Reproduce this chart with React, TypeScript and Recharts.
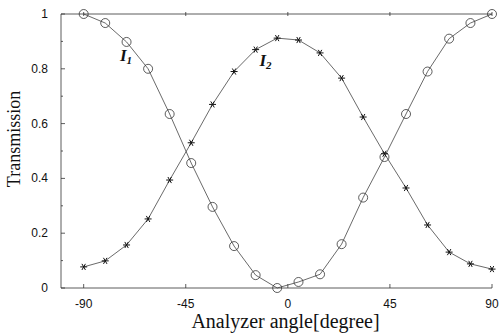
import { LineChart, Line, XAxis, YAxis, ReferenceDot, Label } from 'recharts';

// analyzer angle of each measured point (degrees)
const angles = [
  -90, -80.5, -71.1, -61.6, -52.1, -42.6, -33.2, -23.7, -14.2, -4.7,
  4.7, 14.2, 23.7, 33.2, 42.6, 52.1, 61.6, 71.1, 80.5, 90,
];
// I1 (circles)
const i1Values = [
  1.0, 0.967, 0.898, 0.8, 0.635, 0.456, 0.296, 0.153, 0.047, 0.0,
  0.022, 0.05, 0.16, 0.33, 0.478, 0.635, 0.79, 0.91, 0.967, 1.0,
];
// I2 (stars)
const i2Values = [
  0.077, 0.099, 0.157, 0.252, 0.394, 0.53, 0.67, 0.79, 0.87, 0.912,
  0.905, 0.858, 0.766, 0.624, 0.49, 0.365, 0.23, 0.131, 0.088, 0.069,
];
const xTicks = [-90, -45, 0, 45, 90];
const yTicks = [0, 0.1, 0.2, 0.3, 0.4, 0.5, 0.6, 0.7, 0.8, 0.9, 1];
const yLabelled = [0, 0.2, 0.4, 0.6, 0.8, 1];

const data = angles.map((a, i) => ({ angle: a, i1: i1Values[i], i2: i2Values[i] }));

const INK = '#333';
const SANS = '"Liberation Sans", Arial, sans-serif';
const SERIF = '"Liberation Serif", "Times New Roman", serif';

const CircleDot = (props: any) => {
  const { cx, cy } = props;
  if (cx == null || cy == null) return null;
  return <circle cx={cx} cy={cy} r={4.5} fill="none" stroke={INK} strokeWidth={0.8} />;
};

const StarDot = (props: any) => {
  const { cx, cy } = props;
  if (cx == null || cy == null) return null;
  const r = 3.5;
  return (
    <g stroke="#111" strokeWidth={1}>
      <line x1={cx - r} y1={cy} x2={cx + r} y2={cy} />
      <line x1={cx - r * 0.5} y1={cy - r * 0.87} x2={cx + r * 0.5} y2={cy + r * 0.87} />
      <line x1={cx - r * 0.5} y1={cy + r * 0.87} x2={cx + r * 0.5} y2={cy - r * 0.87} />
    </g>
  );
};

const LeftTick = (props: any) => {
  const { x, y, payload } = props;
  const v = payload.value;
  const labelled = yLabelled.some((t) => Math.abs(t - v) < 1e-6);
  return (
    <g>
      <line x1={x + 13} y1={y} x2={x + (labelled ? 17 : 15)} y2={y} stroke={INK} strokeWidth={0.8} />
      {labelled && (
        <text x={x} y={y} dy={4} textAnchor="end" fontFamily={SANS} fontSize={12} fill="#111">
          {v}
        </text>
      )}
    </g>
  );
};

const RightTick = (props: any) => {
  const { x, y } = props;
  return <line x1={x} y1={y} x2={x - 4} y2={y} stroke={INK} strokeWidth={0.8} />;
};

const BottomTick = (props: any) => {
  const { x, y, payload } = props;
  return (
    <g>
      <line x1={x} y1={y - 15} x2={x} y2={y - 19} stroke={INK} strokeWidth={0.8} />
      <text x={x} y={y} dy={5} textAnchor="middle" fontFamily={SANS} fontSize={12} fill="#111">
        {payload.value}
      </text>
    </g>
  );
};

const TopTick = (props: any) => {
  const { x, y } = props;
  return <line x1={x} y1={y} x2={x} y2={y + 4} stroke={INK} strokeWidth={0.8} />;
};

const CurveName = (sub: string) => (props: any) => {
  const { cx, cy } = props;
  return (
    <text x={cx} y={cy} fontFamily={SERIF} fontStyle="italic" fontWeight="bold" fill="#111">
      <tspan fontSize={17}>I</tspan>
      <tspan fontSize={11} dy={3}>{sub}</tspan>
    </text>
  );
};

export default function App() {
  return (
    <div style={{ position: 'absolute', left: 0, top: 0, background: '#fff' }}>
      <LineChart width={503} height={335} data={data} margin={{ top: 0, right: 11, left: 0, bottom: 0 }}>
        <XAxis
          xAxisId="main"
          dataKey="angle"
          type="number"
          domain={[-100, 90]}
          ticks={xTicks}
          height={47}
          tickSize={0}
          tickMargin={15}
          tickLine={false}
          axisLine={{ stroke: INK, strokeWidth: 0.8 }}
          tick={<BottomTick />}
        >
          <Label
            content={(p: any) => {
              const vb = p.viewBox;
              return (
                <text x={vb.x + vb.width / 2 + 9} y={vb.y + 40} textAnchor="middle" fontFamily={SERIF} fontSize={20} fill="#111">
                  Analyzer angle[degree]
                </text>
              );
            }}
          />
        </XAxis>
        <XAxis
          xAxisId="top"
          orientation="top"
          dataKey="angle"
          type="number"
          domain={[-100, 90]}
          ticks={xTicks}
          height={14}
          tickSize={0}
          tickLine={false}
          axisLine={{ stroke: INK, strokeWidth: 0.8 }}
          tick={<TopTick />}
        />
        <YAxis
          yAxisId="main"
          type="number"
          domain={[0, 1]}
          ticks={yTicks}
          width={61}
          tickSize={0}
          tickMargin={13}
          tickLine={false}
          axisLine={{ stroke: INK, strokeWidth: 0.8 }}
          tick={<LeftTick />}
        >
          <Label
            content={(p: any) => {
              const vb = p.viewBox;
              const cx = vb.x + 14;
              const cy = vb.y + vb.height / 2 - 12;
              return (
                <text x={cx} y={cy} transform={`rotate(-90 ${cx} ${cy})`} dy={6} textAnchor="middle" fontFamily={SERIF} fontSize={18} fill="#111">
                  Transmission
                </text>
              );
            }}
          />
        </YAxis>
        <YAxis
          yAxisId="right"
          orientation="right"
          type="number"
          domain={[0, 1]}
          ticks={yTicks}
          width={0}
          tickSize={0}
          tickLine={false}
          axisLine={{ stroke: INK, strokeWidth: 0.8, strokeDasharray: '3 2' }}
          tick={<RightTick />}
        />
        <Line
          xAxisId="main"
          yAxisId="main"
          type="linear"
          dataKey="i1"
          stroke="#444"
          strokeWidth={0.8}
          dot={<CircleDot />}
          isAnimationActive={false}
        />
        <Line
          xAxisId="main"
          yAxisId="main"
          type="linear"
          dataKey="i2"
          stroke="#444"
          strokeWidth={0.8}
          dot={<StarDot />}
          isAnimationActive={false}
        />
        <ReferenceDot xAxisId="main" yAxisId="main" x={-74} y={0.83} r={0} shape={CurveName('1')} />
        <ReferenceDot xAxisId="main" yAxisId="main" x={-12.5} y={0.81} r={0} shape={CurveName('2')} />
      </LineChart>
    </div>
  );
}
